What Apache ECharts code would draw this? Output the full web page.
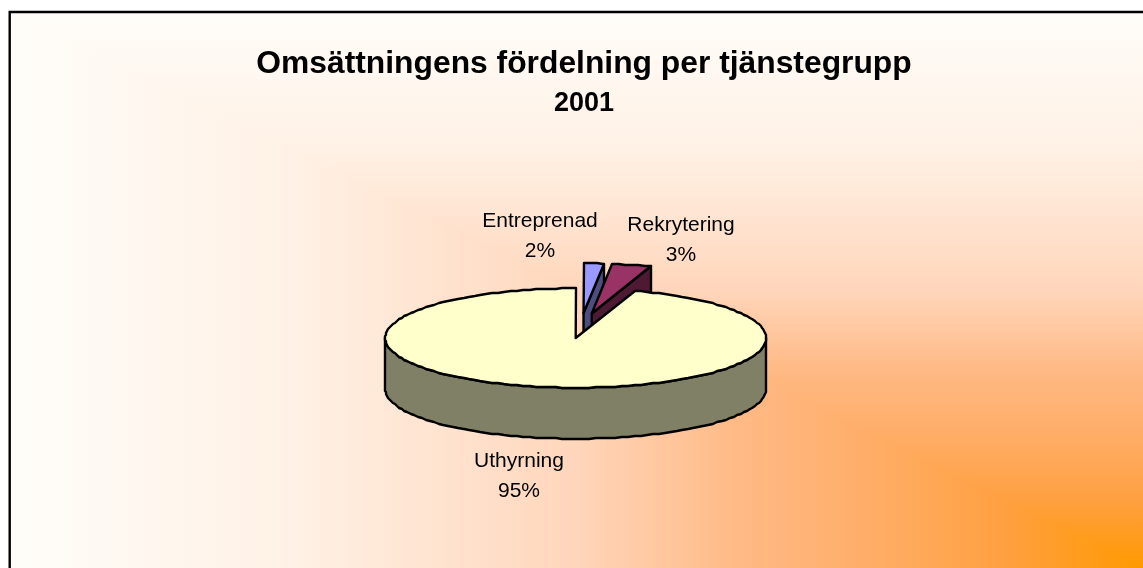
<!DOCTYPE html>
<html>
<head>
<meta charset="utf-8">
<style>
  html, body { margin: 0; padding: 0; background: #fff; }
  #chart { width: 1143px; height: 568px; }
</style>
<script src="https://cdn.jsdelivr.net/npm/echarts@6/dist/echarts.min.js"></script>
</head>
<body>
<div id="chart"></div>
<script>
// slices clockwise from 12 o'clock, values in percent
var categories = ["Entreprenad", "Rekrytering", "Uthyrning"];
var values = [1.7, 3.3, 95];
var exploded = [true, true, false];
var topColors = ["#9999FF", "#993366", "#FFFFCC"];
var sideColors = ["#4D4D80", "#4D1933", "#808066"];

var W = 1143, H = 568;
var frameX = 9.7, frameY = 12;

// pie ellipse
var cx = 575.7, cy = 338, rx = 190.5, ry = 49.7, depth = 51;
var explodeX = 53, explodeY = 25, explodeShift = 5;
var arcStep = 2;

var labelPos = [
  { x: 540, y: 236 },
  { x: 681, y: 240 },
  { x: 519, y: 476 }
];

var total = values.reduce(function (a, b) { return a + b; }, 0);

// whole pixels on purpose, the original outline is stepped too
function pt(x0, y0, deg) {
  var a = deg * Math.PI / 180;
  return [Math.round(x0 + rx * Math.sin(a)), Math.round(y0 - ry * Math.cos(a))];
}

function arc(x0, y0, from, to) {
  var pts = [];
  for (var d = from; d < to; d += arcStep) pts.push(pt(x0, y0, d));
  pts.push(pt(x0, y0, to));
  return pts;
}

function renderSlice(params, api) {
  var i = params.dataIndex;
  var before = 0;
  for (var k = 0; k < i; k++) before += values[k];
  var from = before / total * 360;
  var to = (before + api.value(0)) / total * 360;
  var mid = (from + to) / 2 * Math.PI / 180;

  var x0 = cx, y0 = cy;
  if (exploded[i]) {
    x0 += explodeShift + explodeX * Math.sin(mid);
    y0 -= explodeY * Math.cos(mid);
  }

  var children = [];
  function poly(points, fill) {
    children.push({
      type: "polygon",
      shape: { points: points },
      style: { fill: fill, stroke: "#000", lineWidth: 2.4, lineJoin: "round" }
    });
  }

  if (exploded[i]) {
    // the cut face on the clockwise end is the one turned to the viewer
    var e = pt(x0, y0, to);
    poly([[x0, y0], e, [e[0], e[1] + depth], [x0, y0 + depth]], sideColors[i]);
  } else {
    // outer wall, front half only
    var front = arc(x0, y0, 90, 270);
    var lower = front.map(function (p) { return [p[0], p[1] + depth]; }).reverse();
    poly(front.concat(lower), sideColors[i]);
  }
  poly([[x0, y0]].concat(arc(x0, y0, from, to)), topColors[i]);

  children.push({
    type: "text",
    style: {
      x: labelPos[i].x,
      y: labelPos[i].y,
      text: categories[i] + "\n" + Math.round(api.value(0) / total * 100) + "%",
      fill: "#000",
      font: "21px 'Liberation Sans', Arial, sans-serif",
      lineHeight: 30,
      align: "center",
      verticalAlign: "middle"
    }
  });

  return { type: "group", children: children };
}

var bgStops = [
  { offset: 0, color: "#FFFDF9" },
  { offset: 0.25, color: "#FFF1E5" },
  { offset: 0.5, color: "#FFD6BB" },
  { offset: 0.64, color: "#FFBA86" },
  { offset: 0.75, color: "#FFAE6A" },
  { offset: 0.88, color: "#FFA040" },
  { offset: 1, color: "#FF9900" }
];

var chart = echarts.init(document.getElementById("chart"), null, { renderer: "canvas" });
var option = {
  animation: false,
  backgroundColor: "#fff",
  title: {
    left: 579,
    top: 43,
    textAlign: "center",
    text: "Omsättningens fördelning per tjänstegrupp",
    subtext: "2001",
    itemGap: 10,
    textStyle: { color: "#000", fontWeight: "bold", fontSize: 31.8, fontFamily: "'Liberation Sans', Arial, sans-serif" },
    subtextStyle: { color: "#000", fontWeight: "bold", fontSize: 27, fontFamily: "'Liberation Sans', Arial, sans-serif", align: "center" }
  },
  graphic: {
    elements: [
      // "from corner" fill: vertical ramp everywhere, horizontal ramp over the lower left half
      {
        type: "rect", z: -10, silent: true,
        shape: { x: frameX, y: frameY, width: W - frameX, height: H - frameY },
        style: { fill: new echarts.graphic.LinearGradient(0, 0, 0, 1, bgStops) }
      },
      {
        type: "polygon", z: -10, silent: true,
        shape: { points: [[frameX, frameY], [frameX, H], [W, H]] },
        style: { fill: new echarts.graphic.LinearGradient(0, 0, 1, 0, bgStops) }
      },
      {
        type: "polyline", z: -9, silent: true,
        shape: { points: [[W + 2, frameY], [frameX, frameY], [frameX, H + 2]] },
        style: { fill: null, stroke: "#000", lineWidth: 2.4 }
      }
    ]
  },
  series: [
    {
      type: "custom",
      coordinateSystem: "none",
      renderItem: renderSlice,
      clip: false,
      silent: true,
      data: values.map(function (v, i) { return { name: categories[i], value: [v] }; })
    }
  ]
};
chart.setOption(option);
</script>
</body>
</html>
